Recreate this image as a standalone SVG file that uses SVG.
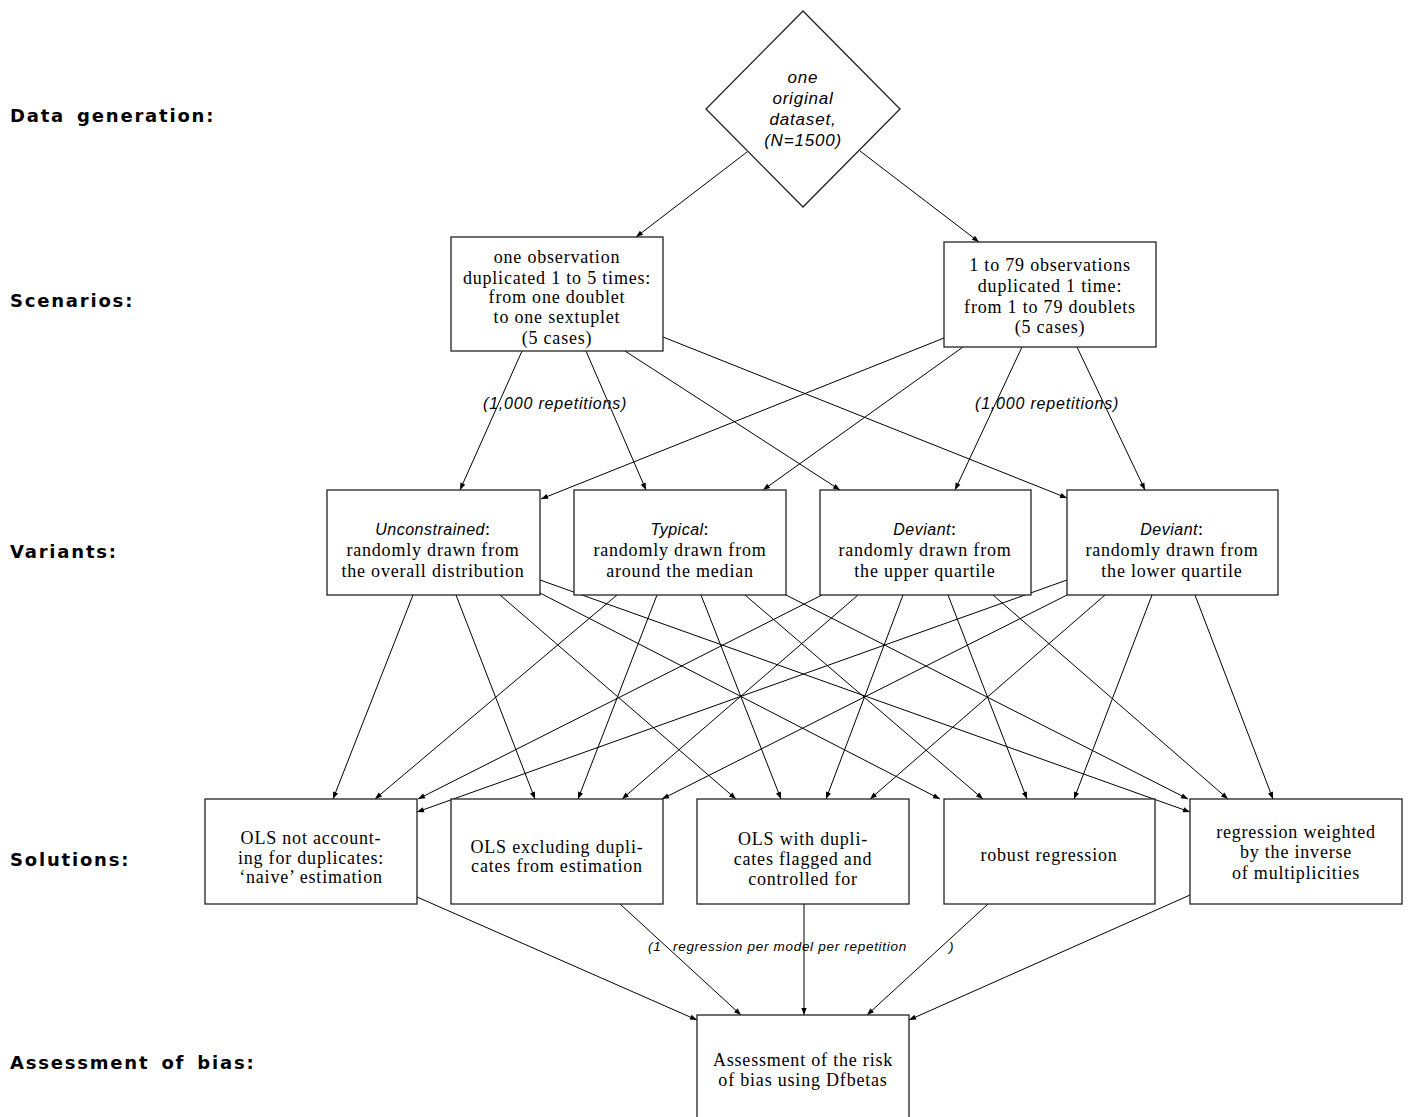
<svg xmlns="http://www.w3.org/2000/svg" width="1410" height="1117" viewBox="0 0 1410 1117">
<defs>
<style>
.bg{fill:#fff}
.box{fill:#fff;stroke:#222;stroke-width:1.3}
.lab{font-family:"DejaVu Sans",Verdana,sans-serif;font-weight:bold;font-size:18px;letter-spacing:1.8px;word-spacing:4px;fill:#000}
.t{font-family:"Liberation Serif","Times New Roman",serif;font-size:18px;letter-spacing:0.8px;fill:#000;text-anchor:middle}
.it{font-family:"Liberation Sans",Arial,sans-serif;font-style:italic;font-size:16px;letter-spacing:0.8px;fill:#000}
.itc{font-family:"Liberation Sans",Arial,sans-serif;font-style:italic;font-size:17px;letter-spacing:0.8px;fill:#000;text-anchor:middle}
.sm{font-family:"Liberation Sans",Arial,sans-serif;font-style:italic;font-size:13.5px;letter-spacing:0.7px;fill:#000}
.ln{stroke:#000;stroke-width:1;fill:none;marker-end:url(#ah)}
</style>
<marker id="ah" viewBox="0 0 10 10" refX="10" refY="5" markerWidth="9" markerHeight="7" orient="auto" markerUnits="userSpaceOnUse">
<path d="M0,1.2 L10,5 L0,8.8 z" fill="#000"/>
</marker>
</defs>
<rect class="bg" x="0" y="0" width="1410" height="1117"/>

<g id="level-labels">
<text class="lab" x="10" y="122">Data generation:</text>
<text class="lab" x="10" y="307">Scenarios:</text>
<text class="lab" x="10" y="558">Variants:</text>
<text class="lab" x="10" y="866">Solutions:</text>
<text class="lab" x="10" y="1069">Assessment of bias:</text>
</g>

<g id="connectors">
<line class="ln" x1="747" y1="152" x2="636" y2="237"/>
<line class="ln" x1="860" y1="151" x2="979" y2="242"/>

<line class="ln" x1="522" y1="351" x2="460" y2="490"/>
<line class="ln" x1="586" y1="351" x2="646" y2="490"/>
<line class="ln" x1="625" y1="351" x2="840" y2="490"/>
<line class="ln" x1="663" y1="337" x2="1067" y2="498"/>
<line class="ln" x1="944" y1="338" x2="541" y2="499"/>
<line class="ln" x1="963" y1="347" x2="763" y2="490"/>
<line class="ln" x1="1022" y1="347" x2="955" y2="490"/>
<line class="ln" x1="1077" y1="347" x2="1145" y2="490"/>

<line class="ln" x1="413" y1="595" x2="333" y2="799"/>
<line class="ln" x1="456" y1="595" x2="535" y2="799"/>
<line class="ln" x1="500" y1="595" x2="736" y2="799"/>
<line class="ln" x1="540" y1="593" x2="940" y2="799"/>
<line class="ln" x1="540" y1="580" x2="1190" y2="812"/>

<line class="ln" x1="617" y1="595" x2="375" y2="799"/>
<line class="ln" x1="657" y1="595" x2="578" y2="799"/>
<line class="ln" x1="701" y1="595" x2="781" y2="799"/>
<line class="ln" x1="745" y1="595" x2="983" y2="799"/>
<line class="ln" x1="786" y1="595" x2="1188" y2="799"/>

<line class="ln" x1="822" y1="595" x2="418" y2="799"/>
<line class="ln" x1="858" y1="595" x2="622" y2="799"/>
<line class="ln" x1="903" y1="595" x2="826" y2="799"/>
<line class="ln" x1="948" y1="595" x2="1027" y2="799"/>
<line class="ln" x1="993" y1="595" x2="1228" y2="799"/>

<line class="ln" x1="1067" y1="580" x2="417" y2="812"/>
<line class="ln" x1="1067" y1="595" x2="662" y2="799"/>
<line class="ln" x1="1105" y1="595" x2="870" y2="799"/>
<line class="ln" x1="1152" y1="595" x2="1074" y2="799"/>
<line class="ln" x1="1195" y1="595" x2="1273" y2="799"/>

<line class="ln" x1="417" y1="897" x2="697" y2="1020"/>
<line class="ln" x1="620" y1="904" x2="741" y2="1015"/>
<line class="ln" x1="804" y1="904" x2="804" y2="1015"/>
<line class="ln" x1="988" y1="904" x2="867" y2="1015"/>
<line class="ln" x1="1190" y1="895" x2="909" y2="1020"/>

<text class="it" x="483" y="409">(1,000 repetitions)</text>
<text class="it" x="975" y="409">(1,000 repetitions)</text>
<text class="sm" y="951"><tspan x="648">(1</tspan><tspan x="673">regression per model per repetition</tspan><tspan x="949">)</tspan></text>
</g>

<g id="n-data">
<polygon class="box" points="803,11 900,109 803,207 706,109"/>
<text class="itc" x="803" y="83">one</text>
<text class="itc" x="803" y="104">original</text>
<text class="itc" x="803" y="125">dataset,</text>
<text class="itc" x="803" y="146">(N=1500)</text>
</g>

<g id="n-s1">
<rect class="box" x="451" y="237" width="212" height="114"/>
<text class="t" x="557" y="263">one observation</text>
<text class="t" x="557" y="284">duplicated 1 to 5 times:</text>
<text class="t" x="557" y="303">from one doublet</text>
<text class="t" x="557" y="323">to one sextuplet</text>
<text class="t" x="557" y="344">(5 cases)</text>
</g>
<g id="n-s2">
<rect class="box" x="944" y="242" width="212" height="105"/>
<text class="t" x="1050" y="271">1 to 79 observations</text>
<text class="t" x="1050" y="292">duplicated 1 time:</text>
<text class="t" x="1050" y="313">from 1 to 79 doublets</text>
<text class="t" x="1050" y="333">(5 cases)</text>
</g>

<g id="n-v1">
<rect class="box" x="327" y="490" width="213" height="105"/>
<text class="t" x="433" y="535"><tspan class="it" style="letter-spacing:0.5px">Unconstrained</tspan>:</text>
<text class="t" x="433" y="556">randomly drawn from</text>
<text class="t" x="433" y="577">the overall distribution</text>
</g>
<g id="n-v2">
<rect class="box" x="574" y="490" width="212" height="105"/>
<text class="t" x="680" y="535"><tspan class="it" style="letter-spacing:0.5px">Typical</tspan>:</text>
<text class="t" x="680" y="556">randomly drawn from</text>
<text class="t" x="680" y="577">around the median</text>
</g>
<g id="n-v3">
<rect class="box" x="820" y="490" width="211" height="105"/>
<text class="t" x="925" y="535"><tspan class="it" style="letter-spacing:0.5px">Deviant</tspan>:</text>
<text class="t" x="925" y="556">randomly drawn from</text>
<text class="t" x="925" y="577">the upper quartile</text>
</g>
<g id="n-v4">
<rect class="box" x="1067" y="490" width="211" height="105"/>
<text class="t" x="1172" y="535"><tspan class="it" style="letter-spacing:0.5px">Deviant</tspan>:</text>
<text class="t" x="1172" y="556">randomly drawn from</text>
<text class="t" x="1172" y="577">the lower quartile</text>
</g>

<g id="n-sol1">
<rect class="box" x="205" y="799" width="212" height="105"/>
<text class="t" x="311" y="844">OLS not account-</text>
<text class="t" x="311" y="864">ing for duplicates:</text>
<text class="t" x="311" y="883">‘naive’ estimation</text>
</g>
<g id="n-sol2">
<rect class="box" x="451" y="799" width="212" height="105"/>
<text class="t" x="557" y="853">OLS excluding dupli-</text>
<text class="t" x="557" y="872">cates from estimation</text>
</g>
<g id="n-sol3">
<rect class="box" x="697" y="799" width="212" height="105"/>
<text class="t" x="803" y="845">OLS with dupli-</text>
<text class="t" x="803" y="865">cates flagged and</text>
<text class="t" x="803" y="885">controlled for</text>
</g>
<g id="n-sol4">
<rect class="box" x="944" y="799" width="211" height="105"/>
<text class="t" x="1049" y="861">robust regression</text>
</g>
<g id="n-sol5">
<rect class="box" x="1190" y="799" width="212" height="105"/>
<text class="t" x="1296" y="838">regression weighted</text>
<text class="t" x="1296" y="858">by the inverse</text>
<text class="t" x="1296" y="879">of multiplicities</text>
</g>

<g id="n-assess">
<rect class="box" x="697" y="1015" width="212" height="110"/>
<text class="t" x="803" y="1066">Assessment of the risk</text>
<text class="t" x="803" y="1086">of bias using Dfbetas</text>
</g>
</svg>
